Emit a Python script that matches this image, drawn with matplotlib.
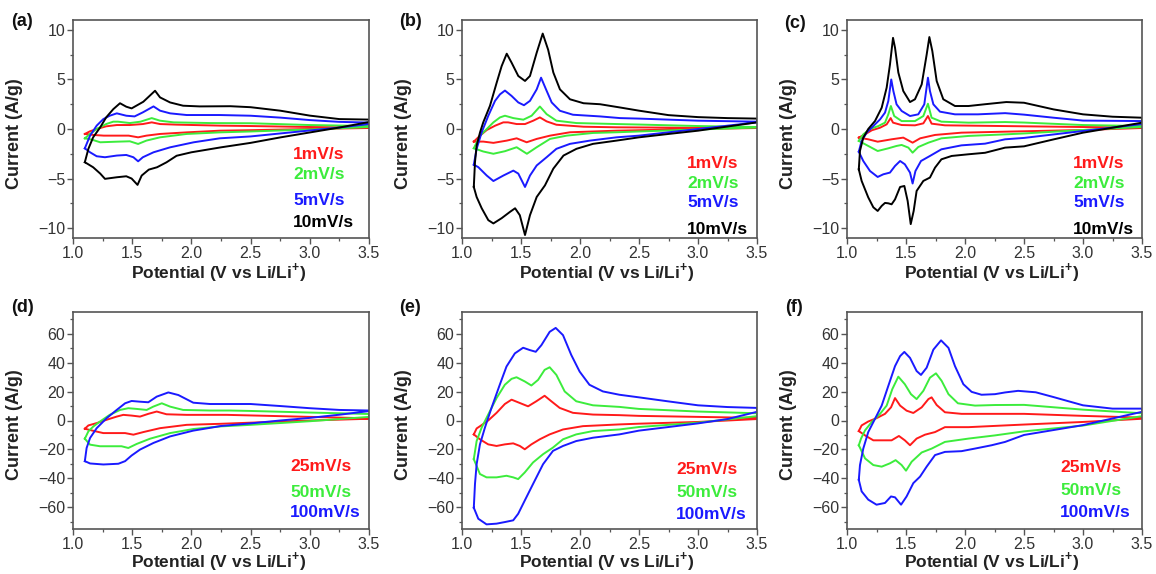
import matplotlib
matplotlib.use("Agg")
import matplotlib.pyplot as plt
from matplotlib.ticker import MultipleLocator

plt.rcParams['font.family'] = ['Liberation Sans', 'DejaVu Sans']
plt.rcParams['mathtext.fontset'] = 'custom'
plt.rcParams['mathtext.rm'] = 'Liberation Sans'
plt.rcParams['mathtext.bf'] = 'Liberation Sans:bold'

# ---------------- data ----------------
RATES_TOP = ['1mV/s', '2mV/s', '5mV/s', '10mV/s']
RATES_BOT = ['25mV/s', '50mV/s', '100mV/s']

# Panel (a)
A10_UP_V = [1.10, 1.13, 1.17, 1.23, 1.28, 1.34, 1.397, 1.45, 1.495, 1.594, 1.693, 1.735, 1.82, 1.93, 2.07, 2.33, 2.5, 2.75, 3.0, 3.25, 3.5]
A10_UP_I = [-3.35, -2.0, -0.84, 0.17, 1.17, 2.0, 2.6, 2.25, 2.08, 2.75, 3.86, 3.19, 2.68, 2.35, 2.28, 2.3, 2.2, 1.85, 1.35, 1.0, 0.95]
A10_DN_V = [1.10, 1.17, 1.23, 1.27, 1.37, 1.45, 1.495, 1.545, 1.58, 1.64, 1.71, 1.79, 1.875, 2.0, 2.25, 2.5, 2.75, 3.0, 3.25, 3.5]
A10_DN_I = [-3.35, -3.86, -4.5, -5.03, -4.87, -4.77, -5.0, -5.64, -4.7, -4.1, -3.86, -3.36, -2.7, -2.35, -1.85, -1.4, -0.85, -0.35, 0.15, 0.7]
A5_UP_V = [1.10, 1.144, 1.2, 1.256, 1.31, 1.37, 1.45, 1.52, 1.59, 1.68, 1.735, 1.82, 1.96, 2.24, 2.5, 2.75, 3.0, 3.25, 3.5]
A5_UP_I = [-1.95, -0.67, 0.34, 1.0, 1.34, 1.58, 1.34, 1.27, 1.68, 2.28, 1.85, 1.58, 1.41, 1.41, 1.34, 1.15, 0.9, 0.72, 0.65]
A5_DN_V = [1.10, 1.144, 1.2, 1.27, 1.37, 1.45, 1.51, 1.55, 1.59, 1.68, 1.82, 2.02, 2.24, 2.5, 2.75, 3.0, 3.25, 3.5]
A5_DN_I = [-1.95, -2.35, -2.75, -2.85, -2.68, -2.62, -2.85, -3.26, -2.85, -2.35, -1.85, -1.34, -0.94, -0.75, -0.45, -0.15, 0.15, 0.5]
A2_UP_V = [1.10, 1.144, 1.2, 1.28, 1.34, 1.38, 1.48, 1.57, 1.665, 1.735, 1.85, 2.16, 2.5, 3.0, 3.5]
A2_UP_I = [-0.94, -0.5, 0.0, 0.5, 0.74, 0.74, 0.6, 0.74, 1.1, 0.84, 0.67, 0.6, 0.58, 0.4, 0.3]
A2_DN_V = [1.10, 1.158, 1.23, 1.37, 1.48, 1.55, 1.62, 1.735, 1.96, 2.24, 2.5, 3.0, 3.5]
A2_DN_I = [-0.94, -1.07, -1.34, -1.28, -1.24, -1.51, -1.17, -0.84, -0.5, -0.34, -0.25, -0.05, 0.2]
A1_UP_V = [1.10, 1.144, 1.2, 1.28, 1.37, 1.48, 1.59, 1.665, 1.735, 1.875, 2.24, 2.5, 3.0, 3.5]
A1_UP_I = [-0.5, -0.23, 0.0, 0.27, 0.4, 0.4, 0.5, 0.67, 0.5, 0.44, 0.34, 0.3, 0.2, 0.15]
A1_DN_V = [1.10, 1.17, 1.26, 1.37, 1.47, 1.55, 1.62, 1.735, 1.96, 2.24, 2.5, 3.0, 3.5]
A1_DN_I = [-0.5, -0.6, -0.67, -0.67, -0.67, -0.84, -0.67, -0.5, -0.34, -0.17, -0.12, 0.0, 0.1]

# Panel (b)
B10_UP_V = [1.10, 1.11, 1.124, 1.153, 1.18, 1.237, 1.294, 1.336, 1.379, 1.42, 1.477, 1.534, 1.576, 1.633, 1.684, 1.73, 1.774, 1.83, 1.915, 2.03, 2.17, 2.34, 2.5, 2.75, 3.0, 3.25, 3.5]
B10_UP_I = [-5.85, -3.35, -1.67, -0.33, 0.67, 2.34, 4.68, 6.35, 7.6, 6.7, 5.35, 4.85, 5.35, 7.7, 9.63, 8.0, 5.7, 4.0, 3.0, 2.6, 2.5, 2.17, 1.85, 1.4, 1.2, 1.1, 1.05]
B10_DN_V = [1.10, 1.124, 1.167, 1.223, 1.266, 1.336, 1.407, 1.45, 1.49, 1.534, 1.576, 1.633, 1.703, 1.774, 1.86, 1.97, 2.11, 2.31, 2.5, 2.75, 3.0, 3.25, 3.5]
B10_DN_I = [-5.85, -6.86, -8.0, -9.2, -9.53, -9.0, -8.36, -8.0, -8.7, -10.7, -8.7, -6.86, -5.69, -4.0, -2.68, -2.0, -1.5, -1.17, -0.84, -0.5, -0.17, 0.25, 0.67]
B5_UP_V = [1.10, 1.124, 1.167, 1.223, 1.28, 1.322, 1.364, 1.42, 1.477, 1.525, 1.576, 1.633, 1.67, 1.712, 1.76, 1.83, 1.94, 2.17, 2.34, 2.5, 3.0, 3.5]
B5_UP_I = [-3.6, -2.0, -0.33, 1.34, 2.84, 3.5, 3.88, 3.34, 2.68, 2.4, 2.84, 4.0, 5.18, 4.0, 2.68, 1.84, 1.44, 1.27, 1.1, 1.05, 0.84, 0.74]
B5_DN_V = [1.10, 1.138, 1.21, 1.266, 1.35, 1.435, 1.477, 1.534, 1.576, 1.633, 1.718, 1.8, 1.915, 2.085, 2.31, 2.5, 3.0, 3.5]
B5_DN_I = [-3.6, -3.85, -4.7, -5.25, -4.7, -4.2, -4.5, -5.85, -4.7, -3.68, -2.84, -2.0, -1.5, -1.17, -0.84, -0.67, 0.0, 0.67]
B2_UP_V = [1.10, 1.153, 1.21, 1.266, 1.322, 1.364, 1.435, 1.52, 1.59, 1.66, 1.717, 1.8, 1.97, 2.31, 2.5, 3.0, 3.5]
B2_UP_I = [-1.94, -0.67, 0.0, 0.67, 1.17, 1.34, 1.1, 0.94, 1.34, 2.27, 1.5, 0.84, 0.6, 0.5, 0.45, 0.3, 0.2]
B2_DN_V = [1.10, 1.18, 1.266, 1.364, 1.463, 1.55, 1.633, 1.746, 1.887, 2.11, 2.31, 2.5, 3.0, 3.5]
B2_DN_I = [-1.94, -2.27, -2.5, -2.24, -1.84, -2.5, -1.84, -1.0, -0.67, -0.4, -0.33, -0.25, -0.05, 0.15]
B1_UP_V = [1.10, 1.153, 1.21, 1.28, 1.35, 1.39, 1.463, 1.534, 1.604, 1.66, 1.717, 1.8, 2.03, 2.31, 3.0, 3.5]
B1_UP_I = [-1.27, -0.67, -0.1, 0.33, 0.67, 0.67, 0.5, 0.5, 0.84, 1.17, 0.77, 0.43, 0.23, 0.17, 0.12, 0.1]
B1_DN_V = [1.10, 1.18, 1.266, 1.38, 1.463, 1.548, 1.633, 1.746, 1.915, 2.31, 3.0, 3.5]
B1_DN_I = [-1.27, -1.27, -1.4, -1.17, -0.94, -1.34, -1.0, -0.67, -0.33, -0.17, 0.0, 0.1]

# Panel (c)
C10_UP_V = [1.10, 1.11, 1.138, 1.18, 1.237, 1.294, 1.336, 1.364, 1.39, 1.407, 1.435, 1.477, 1.534, 1.576, 1.633, 1.675, 1.698, 1.723, 1.76, 1.816, 1.915, 2.03, 2.17, 2.35, 2.5, 2.75, 3.0, 3.25, 3.5]
C10_UP_I = [-4.07, -2.2, -0.87, 0.0, 0.8, 2.15, 4.17, 6.5, 9.2, 8.2, 5.7, 3.83, 2.72, 3.0, 4.5, 7.5, 9.28, 7.87, 4.84, 3.0, 2.32, 2.32, 2.5, 2.72, 2.65, 1.98, 1.48, 1.24, 1.14]
C10_DN_V = [1.10, 1.124, 1.18, 1.223, 1.26, 1.294, 1.322, 1.35, 1.378, 1.407, 1.45, 1.486, 1.514, 1.54, 1.565, 1.59, 1.647, 1.703, 1.746, 1.8, 1.887, 2.03, 2.17, 2.34, 2.5, 2.75, 3.0, 3.25, 3.5]
C10_DN_I = [-4.07, -5.24, -6.9, -7.9, -8.27, -7.76, -7.46, -7.5, -7.6, -7.1, -5.85, -5.75, -7.26, -9.6, -8.27, -6.25, -5.24, -4.9, -3.9, -3.06, -2.72, -2.55, -2.4, -1.88, -1.75, -1.05, -0.37, 0.13, 0.64]
C5_UP_V = [1.10, 1.124, 1.167, 1.223, 1.28, 1.322, 1.35, 1.375, 1.393, 1.42, 1.463, 1.534, 1.604, 1.655, 1.686, 1.703, 1.732, 1.788, 1.915, 2.11, 2.34, 2.5, 2.75, 3.0, 3.5]
C5_UP_I = [-2.29, -1.2, -0.37, 0.3, 0.97, 1.65, 2.82, 5.0, 3.83, 2.49, 1.82, 1.31, 1.48, 2.49, 5.18, 3.83, 2.49, 1.75, 1.48, 1.48, 1.6, 1.45, 1.14, 0.85, 0.8]
C5_DN_V = [1.10, 1.138, 1.195, 1.26, 1.308, 1.364, 1.407, 1.45, 1.49, 1.534, 1.556, 1.58, 1.627, 1.703, 1.8, 1.97, 2.17, 2.34, 2.5, 3.0, 3.5]
C5_DN_I = [-2.29, -3.23, -4.24, -4.84, -4.57, -4.4, -3.73, -3.23, -3.56, -4.4, -5.5, -4.24, -3.23, -2.72, -2.05, -1.65, -1.48, -1.04, -0.9, -0.2, 0.5]
C2_UP_V = [1.10, 1.138, 1.195, 1.266, 1.322, 1.35, 1.372, 1.4, 1.463, 1.576, 1.647, 1.686, 1.717, 1.8, 2.03, 2.34, 2.5, 3.0, 3.5]
C2_UP_I = [-1.2, -0.54, 0.0, 0.3, 0.64, 1.48, 2.32, 1.31, 0.8, 0.8, 1.31, 2.55, 1.14, 0.74, 0.64, 0.7, 0.65, 0.4, 0.3]
C2_DN_V = [1.10, 1.18, 1.26, 1.35, 1.42, 1.463, 1.52, 1.556, 1.604, 1.69, 1.8, 2.03, 2.34, 2.5, 3.0, 3.5]
C2_DN_I = [-1.2, -1.71, -2.22, -1.95, -1.71, -1.61, -1.88, -2.39, -1.82, -1.38, -0.94, -0.7, -0.54, -0.45, -0.1, 0.2]
C1_UP_V = [1.10, 1.153, 1.21, 1.28, 1.336, 1.37, 1.39, 1.463, 1.576, 1.647, 1.686, 1.717, 1.83, 2.31, 3.0, 3.5]
C1_UP_I = [-0.87, -0.54, -0.13, 0.13, 0.47, 1.1, 0.64, 0.4, 0.37, 0.57, 1.31, 0.54, 0.37, 0.3, 0.2, 0.15]
C1_DN_V = [1.10, 1.18, 1.26, 1.378, 1.477, 1.556, 1.62, 1.746, 1.97, 2.34, 3.0, 3.5]
C1_DN_I = [-0.87, -1.04, -1.28, -1.04, -0.87, -1.38, -0.94, -0.6, -0.37, -0.27, -0.1, 0.1]

# Panel (d)
D100_UP_V = [1.10, 1.115, 1.144, 1.2, 1.284, 1.369, 1.44, 1.495, 1.566, 1.636, 1.707, 1.805, 1.89, 2.016, 2.157, 2.326, 2.5, 2.75, 3.0, 3.25, 3.5]
D100_UP_I = [-28.1, -19.0, -12.1, -5.3, 1.6, 7.3, 11.9, 13.5, 13.0, 12.6, 16.5, 19.4, 17.6, 12.3, 11.4, 11.4, 11.4, 10.0, 8.5, 7.3, 6.9]
D100_DN_V = [1.10, 1.144, 1.256, 1.383, 1.44, 1.495, 1.566, 1.68, 1.82, 2.016, 2.25, 2.5, 2.75, 3.0, 3.25, 3.5]
D100_DN_I = [-28.1, -29.7, -30.4, -29.9, -28.1, -24.2, -20.1, -15.5, -11.0, -7.0, -3.8, -2.0, 0.0, 1.8, 4.0, 6.5]
D50_UP_V = [1.10, 1.13, 1.172, 1.228, 1.31, 1.397, 1.467, 1.538, 1.622, 1.678, 1.75, 1.82, 1.93, 2.157, 2.326, 2.5, 3.0, 3.5]
D50_UP_I = [-12.6, -7.5, -4.1, -0.7, 3.9, 7.3, 8.5, 8.0, 7.3, 9.6, 11.9, 9.6, 7.3, 6.9, 6.9, 6.6, 5.5, 4.5]
D50_DN_V = [1.10, 1.144, 1.228, 1.34, 1.41, 1.467, 1.538, 1.65, 1.82, 2.016, 2.24, 2.5, 3.0, 3.5]
D50_DN_I = [-12.6, -16.7, -17.8, -17.8, -17.8, -19.0, -16.2, -12.6, -8.7, -5.9, -4.1, -3.0, -0.5, 2.5]
D25_UP_V = [1.10, 1.13, 1.2, 1.284, 1.369, 1.425, 1.495, 1.566, 1.636, 1.707, 1.79, 1.96, 2.3, 2.5, 3.0, 3.5]
D25_UP_I = [-5.7, -3.4, -1.8, 0.5, 2.7, 3.9, 3.4, 2.7, 4.6, 6.2, 4.3, 3.9, 3.9, 3.5, 2.5, 1.5]
D25_DN_V = [1.10, 1.17, 1.256, 1.355, 1.44, 1.51, 1.594, 1.735, 1.96, 2.24, 2.5, 3.0, 3.5]
D25_DN_I = [-5.7, -7.1, -8.7, -8.7, -8.7, -9.8, -8.0, -5.3, -3.0, -2.3, -1.5, 0.0, 1.2]

# Panel (e)
E100_UP_V = [1.10, 1.11, 1.124, 1.152, 1.194, 1.25, 1.32, 1.377, 1.448, 1.518, 1.574, 1.625, 1.673, 1.743, 1.794, 1.856, 1.926, 1.997, 2.08, 2.194, 2.334, 2.5, 2.75, 3.0, 3.25, 3.5]
E100_UP_I = [-60.3, -43.9, -30.2, -16.5, -5.0, 8.7, 24.7, 37.3, 46.4, 50.3, 48.7, 47.5, 52.1, 61.3, 64.0, 59.0, 45.3, 33.8, 24.7, 20.1, 17.8, 16.0, 13.2, 10.5, 9.3, 8.7]
E100_DN_V = [1.10, 1.138, 1.208, 1.293, 1.363, 1.434, 1.476, 1.532, 1.602, 1.687, 1.771, 1.856, 1.968, 2.11, 2.334, 2.5, 2.75, 3.0, 3.25, 3.5]
E100_DN_I = [-60.3, -67.9, -71.8, -71.3, -70.2, -69.0, -64.5, -55.3, -43.9, -30.2, -21.0, -17.6, -14.2, -11.9, -9.6, -7.0, -4.5, -2.0, 1.0, 6.0]
E50_UP_V = [1.10, 1.124, 1.166, 1.222, 1.293, 1.363, 1.42, 1.462, 1.532, 1.588, 1.645, 1.7, 1.743, 1.8, 1.87, 1.968, 2.11, 2.334, 2.5, 3.0, 3.5]
E50_UP_I = [-26.7, -14.2, -5.0, 4.1, 15.5, 24.7, 28.8, 29.9, 27.0, 24.2, 28.1, 35.0, 36.8, 31.5, 20.1, 13.3, 10.5, 9.4, 8.0, 6.2, 5.0]
E50_DN_V = [1.10, 1.152, 1.208, 1.293, 1.377, 1.434, 1.476, 1.532, 1.602, 1.687, 1.771, 1.856, 1.968, 2.11, 2.334, 2.5, 3.0, 3.5]
E50_DN_I = [-26.7, -37.0, -39.3, -39.3, -38.2, -39.3, -40.5, -35.9, -29.0, -23.3, -18.7, -13.0, -9.6, -7.3, -6.2, -4.5, -1.5, 3.0]
E25_UP_V = [1.10, 1.124, 1.166, 1.222, 1.293, 1.363, 1.42, 1.49, 1.56, 1.63, 1.7, 1.757, 1.828, 1.94, 2.11, 2.334, 2.5, 3.0, 3.5]
E25_UP_I = [-9.6, -5.5, -3.2, 0.0, 5.3, 11.4, 14.4, 12.1, 9.8, 13.3, 17.1, 13.3, 8.7, 5.3, 4.1, 3.7, 3.2, 2.5, 1.8]
E25_DN_V = [1.10, 1.152, 1.222, 1.293, 1.363, 1.434, 1.49, 1.532, 1.588, 1.659, 1.743, 1.856, 2.025, 2.334, 2.5, 3.0, 3.5]
E25_DN_I = [-9.6, -13.0, -16.5, -17.6, -16.5, -15.8, -17.6, -19.9, -16.5, -13.0, -9.6, -6.2, -3.9, -2.7, -2.2, -1.0, 1.0]

# Panel (f)
F100_UP_V = [1.10, 1.11, 1.138, 1.18, 1.237, 1.294, 1.35, 1.407, 1.45, 1.486, 1.534, 1.59, 1.627, 1.675, 1.732, 1.797, 1.86, 1.915, 1.986, 2.056, 2.14, 2.254, 2.34, 2.45, 2.6, 2.75, 3.0, 3.25, 3.5]
F100_UP_I = [-41.0, -30.8, -19.4, -8.0, 1.1, 10.3, 23.9, 37.6, 44.5, 47.4, 43.3, 34.2, 31.5, 36.5, 49.0, 55.4, 50.2, 37.6, 25.1, 19.8, 17.8, 18.2, 19.4, 20.5, 19.5, 16.2, 10.5, 8.2, 8.2]
F100_DN_V = [1.10, 1.124, 1.18, 1.25, 1.322, 1.373, 1.407, 1.458, 1.505, 1.562, 1.619, 1.675, 1.746, 1.83, 1.97, 2.085, 2.226, 2.34, 2.5, 2.75, 3.0, 3.25, 3.5]
F100_DN_I = [-41.0, -49.0, -54.7, -58.2, -57.0, -52.5, -53.1, -58.2, -52.5, -43.3, -38.8, -31.9, -23.9, -21.7, -21.2, -19.4, -17.1, -14.8, -10.0, -6.6, -3.2, 1.4, 6.0]
F50_UP_V = [1.10, 1.119, 1.153, 1.209, 1.28, 1.336, 1.384, 1.435, 1.49, 1.542, 1.59, 1.647, 1.703, 1.754, 1.802, 1.86, 1.94, 2.085, 2.254, 2.5, 3.0, 3.5]
F50_UP_I = [-17.1, -12.5, -6.8, -1.1, 4.6, 10.3, 21.7, 30.3, 25.1, 18.2, 14.8, 20.5, 29.6, 32.6, 27.4, 18.2, 11.9, 10.3, 10.7, 10.8, 7.5, 5.0]
F50_DN_V = [1.10, 1.153, 1.223, 1.294, 1.364, 1.412, 1.463, 1.5, 1.548, 1.633, 1.718, 1.83, 2.03, 2.254, 2.5, 3.0, 3.5]
F50_DN_I = [-17.1, -26.2, -30.8, -31.9, -29.6, -27.4, -30.8, -34.7, -28.5, -22.1, -19.4, -14.8, -12.5, -10.3, -7.5, -3.5, 3.0]
F25_UP_V = [1.10, 1.124, 1.18, 1.25, 1.322, 1.373, 1.407, 1.45, 1.505, 1.562, 1.633, 1.69, 1.717, 1.76, 1.83, 1.97, 2.34, 2.5, 3.0, 3.5]
F25_UP_I = [-7.3, -3.4, -0.7, 1.6, 4.6, 9.1, 15.5, 10.3, 6.8, 5.2, 9.1, 14.8, 16.0, 10.7, 5.7, 4.6, 4.6, 4.6, 3.2, 2.0]
F25_DN_V = [1.10, 1.153, 1.223, 1.294, 1.378, 1.44, 1.49, 1.534, 1.59, 1.661, 1.746, 1.83, 2.03, 2.34, 2.5, 3.0, 3.5]
F25_DN_I = [-7.3, -10.3, -13.7, -13.7, -13.7, -10.7, -13.7, -17.1, -12.5, -9.8, -8.0, -4.6, -4.6, -3.4, -2.8, -1.0, 1.2]

X_TICKS = [1.0, 1.5, 2.0, 2.5, 3.0, 3.5]
Y_TICKS_TOP = [-10, -5, 0, 5, 10]
Y_TICKS_BOT = [-60, -40, -20, 0, 20, 40, 60]
PANEL_LABELS = ['(a)', '(b)', '(c)', '(d)', '(e)', '(f)']

# ---------------- style ----------------
RED, GREEN, BLUE, BLACK = '#ff1a1a', '#3cec3c', '#1a1aff', '#000000'
TOP_COLORS = [RED, GREEN, BLUE, BLACK]
BOT_COLORS = [RED, GREEN, BLUE]

fig = plt.figure(figsize=(11.56, 5.74), dpi=100)
W, H = 1156.0, 574.0

def add_ax(left_px, top_px, right_px, bottom_px):
    return fig.add_axes([left_px / W, 1 - bottom_px / H, (right_px - left_px) / W, (bottom_px - top_px) / H])

axes = [
    add_ax(73, 20, 369, 238), add_ax(462, 20, 757, 238), add_ax(847, 20, 1142, 238),
    add_ax(73, 312, 369, 529), add_ax(462, 312, 757, 529), add_ax(847, 312, 1142, 529),
]

panels = [
    ([(A1_UP_V, A1_UP_I, A1_DN_V, A1_DN_I), (A2_UP_V, A2_UP_I, A2_DN_V, A2_DN_I),
      (A5_UP_V, A5_UP_I, A5_DN_V, A5_DN_I), (A10_UP_V, A10_UP_I, A10_DN_V, A10_DN_I)], True),
    ([(B1_UP_V, B1_UP_I, B1_DN_V, B1_DN_I), (B2_UP_V, B2_UP_I, B2_DN_V, B2_DN_I),
      (B5_UP_V, B5_UP_I, B5_DN_V, B5_DN_I), (B10_UP_V, B10_UP_I, B10_DN_V, B10_DN_I)], True),
    ([(C1_UP_V, C1_UP_I, C1_DN_V, C1_DN_I), (C2_UP_V, C2_UP_I, C2_DN_V, C2_DN_I),
      (C5_UP_V, C5_UP_I, C5_DN_V, C5_DN_I), (C10_UP_V, C10_UP_I, C10_DN_V, C10_DN_I)], True),
    ([(D25_UP_V, D25_UP_I, D25_DN_V, D25_DN_I), (D50_UP_V, D50_UP_I, D50_DN_V, D50_DN_I),
      (D100_UP_V, D100_UP_I, D100_DN_V, D100_DN_I)], False),
    ([(E25_UP_V, E25_UP_I, E25_DN_V, E25_DN_I), (E50_UP_V, E50_UP_I, E50_DN_V, E50_DN_I),
      (E100_UP_V, E100_UP_I, E100_DN_V, E100_DN_I)], False),
    ([(F25_UP_V, F25_UP_I, F25_DN_V, F25_DN_I), (F50_UP_V, F50_UP_I, F50_DN_V, F50_DN_I),
      (F100_UP_V, F100_UP_I, F100_DN_V, F100_DN_I)], False),
]

legend_x = [0.743, 0.763, 0.766, 0.733, 0.726, 0.722]
legend_y = [
    [0.381, 0.289, 0.174, 0.073],
    [0.344, 0.252, 0.161, 0.040],
    [0.344, 0.252, 0.161, 0.040],
    [0.287, 0.167, 0.074],
    [0.274, 0.169, 0.068],
    [0.282, 0.177, 0.077],
]
label_pos_px = [(22, 22), (410, 22), (795, 23), (22, 307), (410, 308), (794, 307)]
xlabel_y = [-0.158, -0.158, -0.158, -0.148, -0.148, -0.148]

for k, (ax, (curves, top)) in enumerate(zip(axes, panels)):
    colors = TOP_COLORS if top else BOT_COLORS
    rates = RATES_TOP if top else RATES_BOT
    for (uv, ui, dv, di), c in zip(curves, colors):
        ax.plot(uv + dv[::-1], ui + di[::-1], color=c, lw=1.4, solid_joinstyle='round')
    ax.set_xlim(1.0, 3.5)
    ax.set_xticks(X_TICKS)
    ax.set_xticklabels([f'{v:.1f}' for v in X_TICKS])
    ax.xaxis.set_minor_locator(MultipleLocator(0.25))
    if top:
        ax.set_ylim(-11, 11)
        ax.set_yticks(Y_TICKS_TOP)
        ax.yaxis.set_minor_locator(MultipleLocator(2.5))
    else:
        ax.set_ylim(-75, 75)
        ax.set_yticks(Y_TICKS_BOT)
        ax.yaxis.set_minor_locator(MultipleLocator(10))
    for s in ax.spines.values():
        s.set_color('#555555')
        s.set_linewidth(1.2)
    ax.tick_params(axis='both', which='major', direction='out', length=4, width=1.0,
                   color='#555555', labelsize=11.5, labelcolor='#333333')
    ax.tick_params(axis='both', which='minor', direction='out', length=2.5, width=0.9, color='#555555')
    ax.tick_params(axis='y', pad=1.5)
    ax.tick_params(axis='x', pad=1.5)
    ax.set_ylabel('Current (A/g)', fontsize=13, fontweight='bold', color='#222222')
    ax.yaxis.set_label_coords(-0.168, 0.48)
    ax.set_xlabel(r'Potential (V vs Li/Li$^{\mathbf{+}}$)', fontsize=12.5, fontweight='bold', color='#222222')
    ax.xaxis.set_label_coords(0.49, xlabel_y[k])
    ax.xaxis.label.set_verticalalignment('center')
    for r, c, y in zip(rates, colors, legend_y[k]):
        ax.text(legend_x[k], y, r, transform=ax.transAxes, color=c, fontsize=12.5,
                fontweight='bold', ha='left', va='center')
    px, py = label_pos_px[k]
    fig.text(px / W, 1 - py / H, PANEL_LABELS[k], fontsize=13, fontweight='bold',
             ha='center', va='center', color='#111111')

fig.savefig('out.png', dpi=100)
